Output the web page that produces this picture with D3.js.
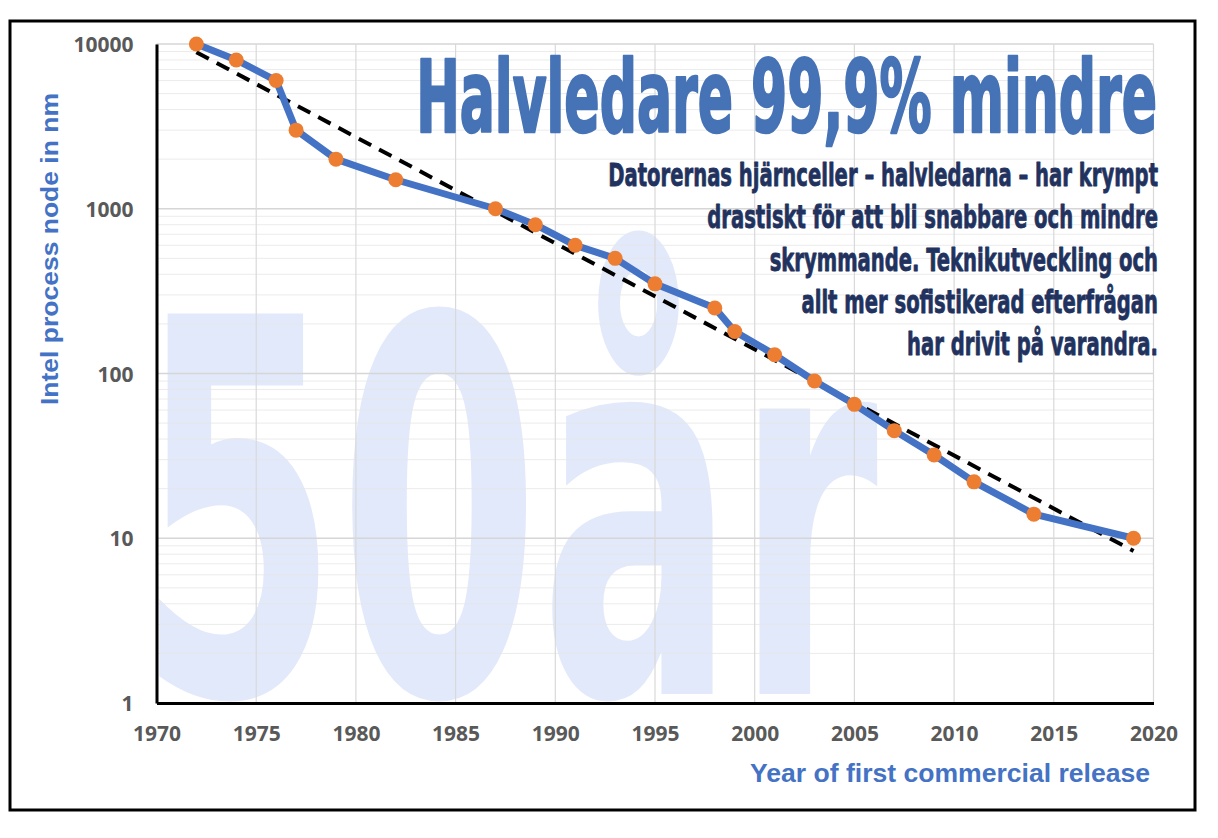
<!DOCTYPE html>
<html>
<head>
<meta charset="utf-8">
<script src="https://cdn.jsdelivr.net/npm/d3@7"></script>
<style>
  html, body { margin: 0; padding: 0; background: #fff; }
  #chart { width: 1218px; height: 838px; }
</style>
</head>
<body>
<div id="chart"></div>
<script>
// Intel process nodes, year of first commercial release
const years = [1972, 1974, 1976, 1977, 1979, 1982, 1987, 1989, 1991, 1993, 1995,
               1998, 1999, 2001, 2003, 2005, 2007, 2009, 2011, 2014, 2019];
const nodes = [10000, 8000, 6000, 3000, 2000, 1500, 1000, 800, 600, 500, 350,
               250, 180, 130, 90, 65, 45, 32, 22, 14, 10];

const xTicks = [1970, 1975, 1980, 1985, 1990, 1995, 2000, 2005, 2010, 2015, 2020];
const yTicks = [1, 10, 100, 1000, 10000];

const title = "Halvledare 99,9% mindre";
const subtitle = [
  "Datorernas hjärnceller – halvledarna – har krympt",
  "drastiskt för att bli snabbare och mindre",
  "skrymmande. Teknikutveckling och",
  "allt mer sofistikerad efterfrågan",
  "har drivit på varandra."
];
const watermark = "50år";
const yTitle = "Intel process node in nm";
const xTitle = "Year of first commercial release";

const width = 1218;
const height = 838;
const condensed = "'Liberation Sans Narrow', 'DejaVu Sans Condensed', 'Roboto Condensed', sans-serif";

const svg = d3.select("#chart").append("svg")
    .attr("width", width)
    .attr("height", height)
    .attr("viewBox", `0 0 ${width} ${height}`)
    .style("display", "block");

// outer frame
svg.append("rect")
    .attr("x", 10).attr("y", 21)
    .attr("width", 1185).attr("height", 789)
    .attr("fill", "#fff")
    .attr("stroke", "#000")
    .attr("stroke-width", 3);

const x = d3.scaleLinear().domain([1970, 2020]).range([156.5, 1153.5]);
const y = d3.scaleLog().domain([1, 10000]).range([703, 44]);

// big watermark, squeezed to its box
const wm = svg.append("g");
const wmText = wm.append("text")
    .attr("x", 0).attr("y", 0)
    .style("font-family", condensed)
    .style("font-weight", "bold")
    .style("font-size", "522px")
    .attr("fill", "#e2e9fa")
    .text(watermark);
const wmLen = wmText.node().getComputedTextLength();
wm.attr("transform", `translate(137,694) scale(${741 / wmLen},1)`);

// gridlines
const grid = svg.append("g");
grid.selectAll(".minor")
    .data(y.ticks().filter(d => !yTicks.includes(d)))
    .join("line")
    .attr("x1", x(1970)).attr("x2", x(2020))
    .attr("y1", d => y(d)).attr("y2", d => y(d))
    .attr("stroke", "#e6e6e6")
    .attr("stroke-opacity", 0.8)
    .attr("stroke-width", 1);
grid.selectAll(".major")
    .data(yTicks)
    .join("line")
    .attr("x1", x(1970)).attr("x2", x(2020))
    .attr("y1", d => y(d)).attr("y2", d => y(d))
    .attr("stroke", "#d6d6d6")
    .attr("stroke-width", 1.5);
svg.append("g").selectAll("line")
    .data(xTicks)
    .join("line")
    .attr("x1", d => x(d)).attr("x2", d => x(d))
    .attr("y1", y(10000)).attr("y2", y(1))
    .attr("stroke", "#d9d9d9")
    .attr("stroke-width", 1.2);

// axes
const xAxis = svg.append("g")
    .attr("transform", `translate(0,${y(1)})`)
    .call(d3.axisBottom(x).tickValues(xTicks).tickFormat(d3.format("d"))
        .tickSize(0).tickSizeOuter(0).tickPadding(23));
const yAxis = svg.append("g")
    .attr("transform", `translate(${x(1970)},0)`)
    .call(d3.axisLeft(y).tickValues(yTicks).tickFormat(d3.format("d"))
        .tickSize(0).tickSizeOuter(0).tickPadding(23));

[xAxis, yAxis].forEach(a => {
  a.select(".domain").attr("stroke", "#000").attr("stroke-width", 3);
  a.selectAll("text")
      .style("font-family", "'Open Sans', sans-serif")
      .style("font-weight", "bold")
      .style("font-size", "21px")
      .attr("fill", "#595959");
});
yAxis.selectAll("text").attr("dy", "0.36em");

// exponential trendline (least squares on log10 values)
const ly = nodes.map(Math.log10);
const mx = d3.mean(years), my = d3.mean(ly);
const slope = d3.sum(years, (t, i) => (t - mx) * (ly[i] - my)) /
              d3.sum(years, t => (t - mx) * (t - mx));
const trend = t => Math.pow(10, my + slope * (t - mx));
const tEnds = [years[0], years[years.length - 1]];

svg.append("line")
    .attr("x1", x(tEnds[0])).attr("y1", y(trend(tEnds[0])))
    .attr("x2", x(tEnds[1])).attr("y2", y(trend(tEnds[1])))
    .attr("stroke", "#000")
    .attr("stroke-width", 4)
    .attr("stroke-dasharray", "14 9");

// series
const line = d3.line()
    .x((d, i) => x(years[i]))
    .y(d => y(d));

svg.append("path")
    .datum(nodes)
    .attr("d", line)
    .attr("fill", "none")
    .attr("stroke", "#4472c4")
    .attr("stroke-width", 7)
    .attr("stroke-linejoin", "round");

svg.append("g").selectAll("circle")
    .data(nodes)
    .join("circle")
    .attr("cx", (d, i) => x(years[i]))
    .attr("cy", d => y(d))
    .attr("r", 7.5)
    .attr("fill", "#ed7d31");

// axis titles
svg.append("text")
    .attr("transform", `translate(58,249) rotate(-90)`)
    .attr("text-anchor", "middle")
    .attr("textLength", 312)
    .attr("lengthAdjust", "spacingAndGlyphs")
    .style("font-family", "'Liberation Sans', sans-serif")
    .style("font-weight", "bold")
    .style("font-size", "23px")
    .attr("fill", "#4472c4")
    .text(yTitle);

svg.append("text")
    .attr("x", 750).attr("y", 782)
    .attr("textLength", 400)
    .attr("lengthAdjust", "spacingAndGlyphs")
    .style("font-family", "'Liberation Sans', sans-serif")
    .style("font-weight", "bold")
    .style("font-size", "26px")
    .attr("fill", "#4472c4")
    .text(xTitle);

// headline
const head = svg.append("g");
const headText = head.append("text")
    .attr("text-anchor", "end")
    .style("font-family", condensed)
    .style("font-weight", "bold")
    .style("font-size", "100px")
    .attr("fill", "#4672b6")
    .attr("stroke", "#4672b6")
    .attr("stroke-width", 2.5)
    .attr("stroke-linejoin", "round")
    .text(title);
const headLen = headText.node().getComputedTextLength();
head.attr("transform", `translate(1157,132) scale(${741 / headLen},1)`);

// sub text, right aligned, squeezed like the headline
const sub = svg.append("g");
const subText = sub.selectAll("text")
    .data(subtitle)
    .join("text")
    .attr("text-anchor", "end")
    .attr("y", (d, i) => i * 42.3)
    .style("font-family", condensed)
    .style("font-weight", "bold")
    .style("font-size", "32px")
    .attr("fill", "#22325e")
    .attr("stroke", "#22325e")
    .attr("stroke-width", 0.8)
    .attr("stroke-linejoin", "round")
    .text(d => d);
const subLen = subText.nodes()[0].getComputedTextLength();
sub.attr("transform", `translate(1158,186) scale(${550 / subLen},1)`);
</script>
</body>
</html>
